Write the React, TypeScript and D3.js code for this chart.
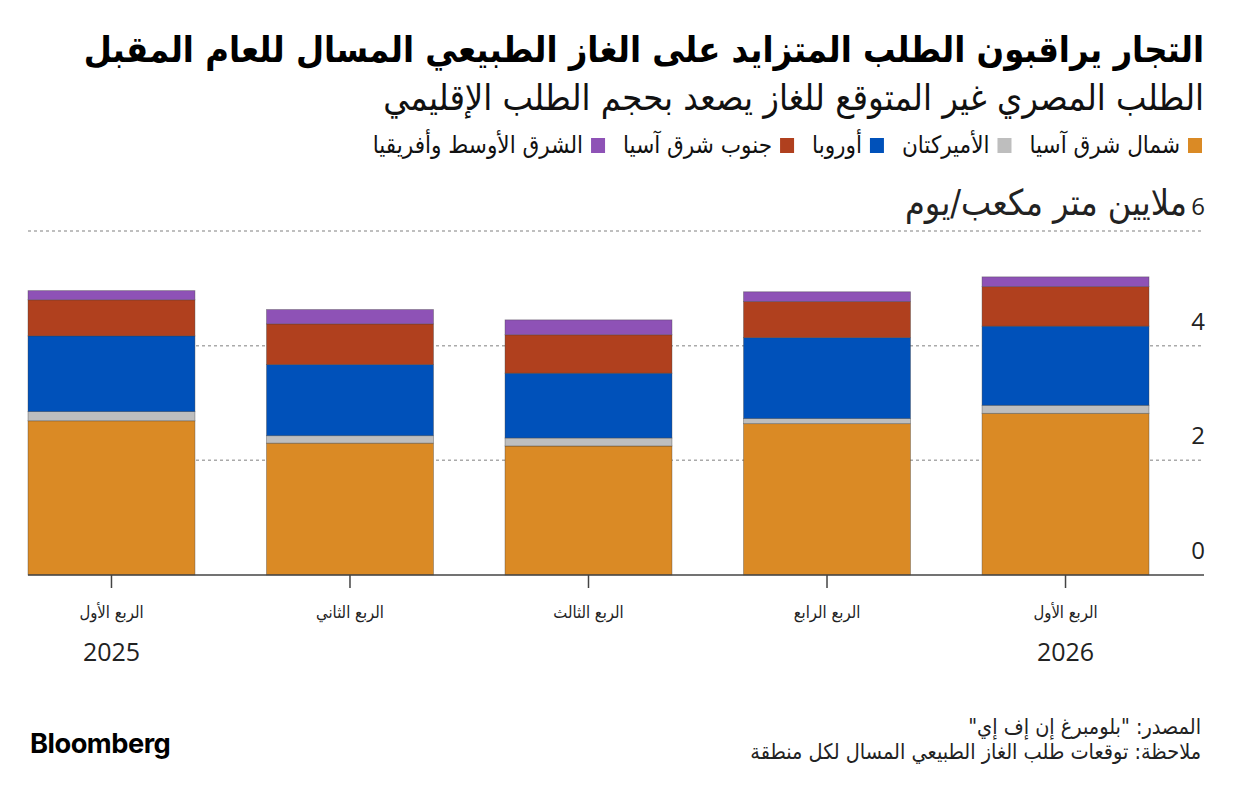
import React, { useEffect, useRef } from "react";
import * as d3 from "d3";

const categories = ["الربع الأول", "الربع الثاني", "الربع الثالث", "الربع الرابع", "الربع الأول"];
const years = ["2025", "", "", "", "2026"];
const seriesNames = ["شمال شرق آسيا", "الأميركتان", "أوروبا", "جنوب شرق آسيا", "الشرق الأوسط وأفريقيا"];
const northeastAsia = [2.69, 2.3, 2.25, 2.64, 2.82];
const americas = [0.16, 0.13, 0.14, 0.09, 0.14];
const europe = [1.32, 1.24, 1.13, 1.41, 1.38];
const southeastAsia = [0.63, 0.71, 0.67, 0.63, 0.69];
const middleEastAfrica = [0.16, 0.25, 0.26, 0.17, 0.17];
const seriesColors = ["#DA8A25", "#BEBEBE", "#0051BA", "#B0401E", "#8E52B6"];
const yTicks = [0, 2, 4, 6];

const title = "التجار يراقبون الطلب المتزايد على الغاز الطبيعي المسال للعام المقبل";
const subtitle = "الطلب المصري غير المتوقع للغاز يصعد بحجم الطلب الإقليمي";
const unitLabel = "ملايين متر مكعب/يوم";
const source = "المصدر: \"بلومبرغ إن إف إي\"";
const note = "ملاحظة: توقعات طلب الغاز الطبيعي المسال لكل منطقة";

const AR = "'DejaVu Sans Condensed', 'DejaVu Sans', sans-serif";
const NUM = "'Open Sans', 'Noto Sans', sans-serif";

export default function App() {
  const ref = useRef<SVGSVGElement | null>(null);

  useEffect(() => {
    const svg = d3.select(ref.current);
    svg.selectAll("*").remove();

    const left = 28, right = 1204, barsRight = 1149;
    const y = d3.scaleLinear().domain([0, 6]).range([575, 231]);
    const x = d3.scaleBand<number>().domain(d3.range(categories.length)).range([left, barsRight]).paddingInner(0.3).paddingOuter(0);

    const fit = (sel: any, target: number) => {
      const node = sel.node() as SVGTextElement;
      const w = node.getComputedTextLength();
      const fs = parseFloat(sel.attr("font-size"));
      if (w > 0) sel.attr("font-size", (fs * target) / w);
      return sel;
    };

    // Title
    const t = svg.append("text").attr("x", right).attr("y", 62).attr("direction", "rtl").attr("text-anchor", "start")
      .attr("font-family", AR).attr("font-weight", 700).attr("font-size", 34).attr("fill", "#000").text(title);
    fit(t, 1121);
    const st = svg.append("text").attr("x", right).attr("y", 110).attr("direction", "rtl").attr("text-anchor", "start")
      .attr("font-family", AR).attr("font-size", 28).attr("fill", "#111").text(subtitle);
    fit(st, 821);

    // Legend
    const legendY = 146;
    const probe = seriesNames.map((name) =>
      svg.append("text").attr("font-family", AR).attr("font-size", 18).text(name)
    );
    const widths = probe.map((p) => (p.node() as SVGTextElement).getComputedTextLength());
    probe.forEach((p) => p.remove());
    const fixed = seriesNames.length * 22 + (seriesNames.length - 1) * 18;
    const k = (890 - fixed) / d3.sum(widths);
    const lfs = Math.min(24, 18 * k);
    let lx = 1202;
    seriesNames.forEach((name, i) => {
      svg.append("rect").attr("x", lx - 14).attr("y", legendY - 8).attr("width", 14).attr("height", 15).attr("fill", seriesColors[i]);
      const txt = svg.append("text").attr("x", lx - 22).attr("y", legendY + 7).attr("direction", "rtl").attr("text-anchor", "start")
        .attr("font-family", AR).attr("font-size", lfs).attr("fill", "#111").text(name);
      const w = (txt.node() as SVGTextElement).getComputedTextLength();
      lx = lx - 22 - w - 18;
    });

    // Gridlines
    yTicks.filter((d) => d > 0).forEach((d) => {
      svg.append("line").attr("x1", left).attr("x2", right).attr("y1", y(d)).attr("y2", y(d))
        .attr("stroke", "#AAAAAA").attr("stroke-width", 1.5).attr("stroke-dasharray", "3,3");
    });

    // Stacked bars
    const rows = categories.map((_, i) => ({
      i,
      s0: northeastAsia[i],
      s1: americas[i],
      s2: europe[i],
      s3: southeastAsia[i],
      s4: middleEastAfrica[i],
    }));
    const stack = d3.stack<any>().keys(["s0", "s1", "s2", "s3", "s4"]);
    const layers = stack(rows);
    layers.forEach((layer, k2) => {
      svg.append("g").selectAll("rect").data(layer).join("rect")
        .attr("x", (d: any) => x(d.data.i)!)
        .attr("width", x.bandwidth())
        .attr("y", (d: any) => y(d[1]))
        .attr("height", (d: any) => y(d[0]) - y(d[1]))
        .attr("fill", seriesColors[k2])
        .attr("stroke", "rgba(60,60,60,0.45)")
        .attr("stroke-width", 0.8);
    });

    // Baseline
    svg.append("line").attr("x1", left).attr("x2", right).attr("y1", y(0)).attr("y2", y(0))
      .attr("stroke", "#444").attr("stroke-width", 1.5);

    // Y labels
    yTicks.forEach((d) => {
      svg.append("text").attr("x", right + 1).attr("y", y(d) - 16).attr("text-anchor", "end")
        .attr("font-family", NUM).attr("font-size", 24).attr("fill", "#222").text(String(d));
    });
    const ul = svg.append("text").attr("x", right - 17).attr("y", y(6) - 16).attr("direction", "rtl").attr("text-anchor", "start")
      .attr("font-family", AR).attr("font-size", 24).attr("fill", "#222").text(unitLabel);
    fit(ul, 282);

    // X ticks and labels
    categories.forEach((c, i) => {
      const cx = x(i)! + x.bandwidth() / 2;
      svg.append("line").attr("x1", cx).attr("x2", cx).attr("y1", y(0)).attr("y2", y(0) + 13)
        .attr("stroke", "#444").attr("stroke-width", 1.5);
      svg.append("text").attr("x", cx).attr("y", 618).attr("text-anchor", "middle")
        .attr("font-family", AR).attr("font-size", 16.5).attr("fill", "#222").text(c);
      if (years[i]) {
        svg.append("text").attr("x", cx).attr("y", 661).attr("text-anchor", "middle")
          .attr("font-family", NUM).attr("font-size", 25).attr("fill", "#222").text(years[i]);
      }
    });

    // Footer
    const logo = svg.append("text").attr("x", 30).attr("y", 753).attr("font-family", "Inter, Roboto, sans-serif").attr("font-weight", 700)
      .attr("font-size", 25).attr("letter-spacing", -0.5).attr("fill", "#000").text("Bloomberg");
    fit(logo, 140);
    const s1 = svg.append("text").attr("x", 1201).attr("y", 734).attr("direction", "rtl").attr("text-anchor", "start")
      .attr("font-family", AR).attr("font-size", 17).attr("fill", "#222").text(source);
    const s2 = svg.append("text").attr("x", 1201).attr("y", 759).attr("direction", "rtl").attr("text-anchor", "start")
      .attr("font-family", AR).attr("font-size", 17).attr("fill", "#222").text(note);
    fit(s2, 451);
    s1.attr("font-size", s2.attr("font-size"));
  }, []);

  return (
    <svg ref={ref} width={1240} height={804} style={{ display: "block", position: "absolute", left: 0, top: 0, background: "#fff" }} />
  );
}
